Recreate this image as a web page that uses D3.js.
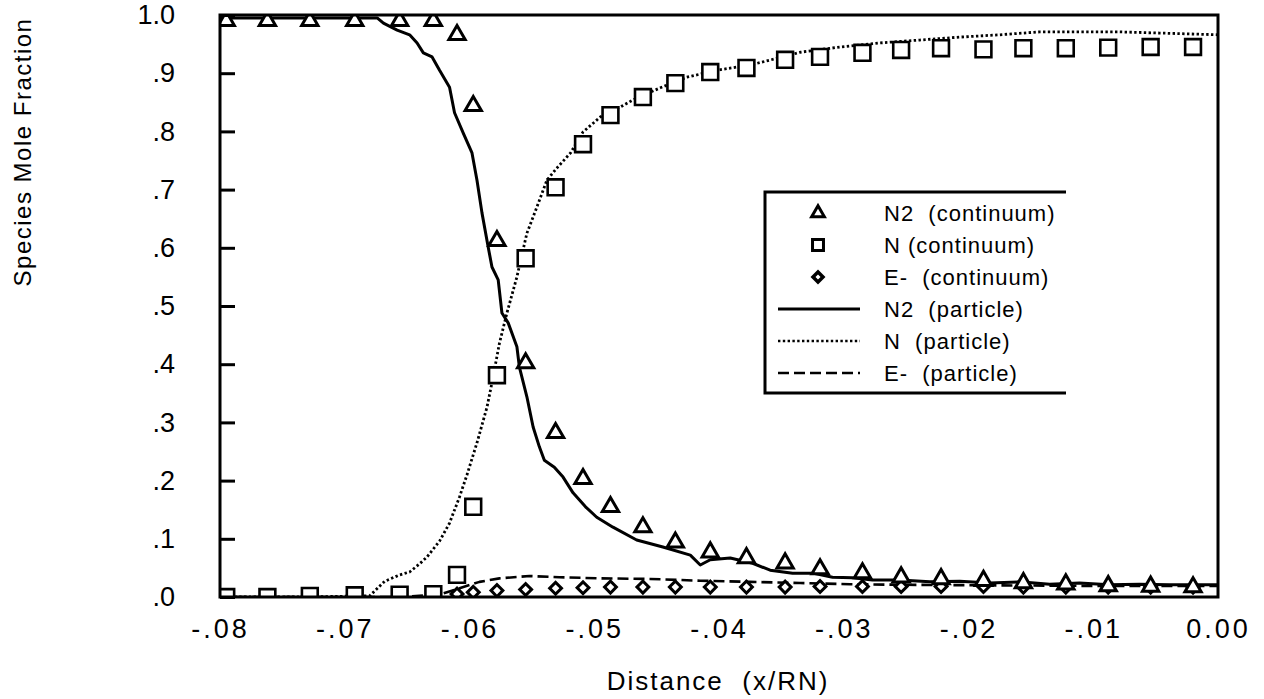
<!DOCTYPE html>
<html>
<head>
<meta charset="utf-8">
<script src="https://cdn.jsdelivr.net/npm/d3@7"></script>
<style>
  html, body { margin: 0; padding: 0; background: #fff; }
  svg { display: block; }
  text { font-family: "Liberation Sans", Arial, Helvetica, sans-serif; fill: #000; }
</style>
</head>
<body>
<svg id="chart" width="1264" height="699"></svg>
<script>
// Continuum solution sample locations (x/RN)
const contX = [-0.0795, -0.0762, -0.0728, -0.0692, -0.0656, -0.0629, -0.0610, -0.0597,
  -0.0578, -0.0555, -0.0531, -0.0509, -0.0487, -0.0461, -0.0435, -0.0407, -0.0378,
  -0.0347, -0.0319, -0.0285, -0.0254, -0.0222, -0.0188, -0.0156, -0.0122, -0.0088,
  -0.0054, -0.0020];
const contN2 = [0.990, 0.990, 0.990, 0.990, 0.990, 0.990, 0.966, 0.844, 0.612, 0.402,
  0.282, 0.203, 0.155, 0.120, 0.094, 0.077, 0.067, 0.058, 0.048, 0.041, 0.034, 0.031,
  0.028, 0.024, 0.022, 0.019, 0.018, 0.017];
const contN = [0.000, 0.000, 0.002, 0.003, 0.004, 0.005, 0.038, 0.155, 0.381, 0.582,
  0.704, 0.778, 0.828, 0.859, 0.883, 0.902, 0.909, 0.923, 0.928, 0.935, 0.940, 0.943,
  0.941, 0.943, 0.943, 0.944, 0.945, 0.945];
const contE = [0.000, 0.000, 0.000, 0.000, 0.000, 0.002, 0.005, 0.008, 0.011, 0.013,
  0.015, 0.016, 0.017, 0.017, 0.017, 0.017, 0.017, 0.017, 0.018, 0.018, 0.018, 0.018,
  0.018, 0.017, 0.017, 0.017, 0.017, 0.017];

// Particle (DSMC) profiles
const partN2X = [-0.0800, -0.0736, -0.0674, -0.0669, -0.0658, -0.0648, -0.0642, -0.0637,
  -0.0630, -0.0624, -0.0616, -0.0612, -0.0605, -0.0598, -0.0594, -0.0590, -0.0585,
  -0.0582, -0.0577, -0.0574, -0.0569, -0.0562, -0.0560, -0.0554, -0.0549, -0.0544,
  -0.0540, -0.0532, -0.0525, -0.0517, -0.0507, -0.0498, -0.0485, -0.0466, -0.0445,
  -0.0423, -0.0415, -0.0407, -0.0391, -0.0373, -0.0359, -0.0341, -0.0325, -0.0309,
  -0.0293, -0.0277, -0.0255, -0.0231, -0.0207, -0.0183, -0.0159, -0.0135, -0.0111,
  -0.0087, -0.0063, -0.0039, -0.0014, 0.0000];
const partN2Y = [0.995, 0.995, 0.995, 0.986, 0.974, 0.966, 0.952, 0.935, 0.928, 0.905,
  0.876, 0.832, 0.797, 0.763, 0.716, 0.660, 0.601, 0.567, 0.545, 0.488, 0.471, 0.430,
  0.395, 0.344, 0.292, 0.258, 0.235, 0.223, 0.206, 0.179, 0.155, 0.137, 0.120, 0.098,
  0.086, 0.072, 0.055, 0.064, 0.067, 0.058, 0.046, 0.041, 0.041, 0.034, 0.033, 0.029,
  0.029, 0.026, 0.027, 0.024, 0.026, 0.022, 0.024, 0.021, 0.022, 0.021, 0.021, 0.021];

const partNX = [-0.0800, -0.0736, -0.0680, -0.0668, -0.0656, -0.0648, -0.0640, -0.0634,
  -0.0624, -0.0616, -0.0608, -0.0602, -0.0594, -0.0586, -0.0582, -0.0576, -0.0570,
  -0.0562, -0.0554, -0.0546, -0.0538, -0.0530, -0.0519, -0.0509, -0.0495, -0.0479,
  -0.0469, -0.0447, -0.0426, -0.0402, -0.0375, -0.0349, -0.0335, -0.0303, -0.0271,
  -0.0239, -0.0207, -0.0175, -0.0143, -0.0111, -0.0079, -0.0047, 0.0000];
const partNY = [0.000, 0.000, 0.002, 0.027, 0.038, 0.043, 0.057, 0.069, 0.096, 0.127,
  0.172, 0.210, 0.265, 0.326, 0.368, 0.436, 0.488, 0.550, 0.625, 0.670, 0.716, 0.737,
  0.763, 0.799, 0.825, 0.842, 0.854, 0.875, 0.893, 0.905, 0.914, 0.928, 0.936, 0.945,
  0.952, 0.957, 0.962, 0.966, 0.971, 0.971, 0.971, 0.969, 0.966];

const partEX = [-0.0800, -0.0656, -0.0624, -0.0608, -0.0592, -0.0576, -0.0552, -0.0528,
  -0.0495, -0.0455, -0.0415, -0.0375, -0.0335, -0.0295, -0.0255, -0.0175, -0.0095, 0.0000];
const partEY = [0.000, 0.000, 0.004, 0.015, 0.026, 0.032, 0.036, 0.034, 0.032, 0.031,
  0.028, 0.026, 0.024, 0.022, 0.021, 0.020, 0.019, 0.019];

const xTicks = [-0.08, -0.07, -0.06, -0.05, -0.04, -0.03, -0.02, -0.01, 0.0];
const xTickLabels = ["-.08", "-.07", "-.06", "-.05", "-.04", "-.03", "-.02", "-.01", "0.00"];
const yTicks = [0, 0.1, 0.2, 0.3, 0.4, 0.5, 0.6, 0.7, 0.8, 0.9, 1.0];
const yTickLabels = [".0", ".1", ".2", ".3", ".4", ".5", ".6", ".7", ".8", ".9", "1.0"];

const legendLabels = ["N2  (continuum)", "N (continuum)", "E-  (continuum)",
  "N2  (particle)", "N  (particle)", "E-  (particle)"];

const svg = d3.select("#chart");
const L = 220, R = 1218, T = 15, B = 597;
const x = d3.scaleLinear().domain([-0.08, 0]).range([L, R]);
const y = d3.scaleLinear().domain([0, 1]).range([B, T]);

// Marks stay inside the frame
svg.append("defs").append("clipPath").attr("id", "plotClip")
  .append("rect").attr("x", L).attr("y", T).attr("width", R - L).attr("height", B - T);
const plot = svg.append("g").attr("clip-path", "url(#plotClip)");

// Particle curves
const lineGen = d3.line().x(d => x(d[0])).y(d => y(d[1])).curve(d3.curveLinear);
const pairs = (xs, ys) => xs.map((v, i) => [v, ys[i]]);

const dotDash = "2.4,2.4";
const longDash = "11,5";
const lineStyles = [
  { data: pairs(partEX, partEY), dash: longDash, width: 2.6 },
  { data: pairs(partNX, partNY), dash: dotDash, width: 2.8 },
  { data: pairs(partN2X, partN2Y), dash: null, width: 3 }
];
lineStyles.forEach(s => {
  plot.append("path")
    .attr("d", lineGen(s.data))
    .attr("fill", "none")
    .attr("stroke", "#000")
    .attr("stroke-width", s.width)
    .attr("stroke-dasharray", s.dash)
    .attr("stroke-linejoin", "round");
});

// Continuum markers
const triSym = d3.symbol().type(d3.symbolTriangle).size(115);
const sqSym = d3.symbol().type(d3.symbolSquare).size(250);
const diaSym = d3.symbol().type(d3.symbolSquare).size(70);

function markers(ys, gen, rot, sw) {
  plot.append("g").selectAll("path")
    .data(contX.map((v, i) => [v, ys[i]]))
    .join("path")
    .attr("d", gen())
    .attr("transform", d => `translate(${x(d[0])},${y(d[1])}) rotate(${rot})`)
    .attr("fill", "#fff")
    .attr("stroke", "#000")
    .attr("stroke-width", sw);
}
markers(contE, diaSym, 45, 3);
markers(contN, sqSym, 0, 2.6);
markers(contN2, triSym, 0, 3);

// Frame
svg.append("rect")
  .attr("x", L).attr("y", T)
  .attr("width", R - L).attr("height", B - T)
  .attr("fill", "none").attr("stroke", "#000").attr("stroke-width", 3);

// Y axis: inward ticks on the left edge
const yAxis = d3.axisLeft(y).tickValues(yTicks)
  .tickSize(-15).tickPadding(45)
  .tickFormat((d, i) => yTickLabels[i]);
const gy = svg.append("g").attr("transform", `translate(${L},0)`).call(yAxis);
gy.select(".domain").remove();
gy.selectAll(".tick line").attr("stroke", "#000").attr("stroke-width", 3);
gy.selectAll(".tick text")
  .attr("font-size", 27)
  .style("font-family", '"Liberation Sans", Arial, sans-serif');

// X axis labels
const xAxis = d3.axisBottom(x).tickValues(xTicks)
  .tickSize(0).tickPadding(22)
  .tickFormat((d, i) => xTickLabels[i]);
const gx = svg.append("g").attr("transform", `translate(0,${B})`).call(xAxis);
gx.select(".domain").remove();
gx.selectAll(".tick text")
  .attr("font-size", 27)
  .attr("letter-spacing", "3px")
  .style("font-family", '"Liberation Sans", Arial, sans-serif');

// Axis titles
svg.append("text")
  .attr("x", 718).attr("y", 690)
  .attr("text-anchor", "middle")
  .attr("font-size", 26)
  .attr("letter-spacing", "2px")
  .attr("xml:space", "preserve")
  .style("white-space", "pre")
  .text("Distance  (x/RN)");
svg.append("text")
  .attr("transform", "translate(31,152) rotate(-90)")
  .attr("text-anchor", "middle")
  .attr("font-size", 24)
  .attr("letter-spacing", "1.5px")
  .text("Species Mole Fraction");

// Legend
const lgLeft = 765, lgTop = 192, lgBottom = 393, lgRight = 1066;
svg.append("path")
  .attr("d", `M${lgRight},${lgTop}H${lgLeft}V${lgBottom}H${lgRight}`)
  .attr("fill", "#fff").attr("stroke", "#000").attr("stroke-width", 3);
const rowY = i => 213 + i * 32;
const lg = svg.append("g");
const lgSyms = [
  { gen: d3.symbol().type(d3.symbolTriangle).size(70), rot: 0, sw: 3 },
  { gen: d3.symbol().type(d3.symbolSquare).size(120), rot: 0, sw: 3 },
  { gen: d3.symbol().type(d3.symbolSquare).size(50), rot: 45, sw: 3.5 }
];
lgSyms.forEach((s, i) => {
  lg.append("path").attr("d", s.gen())
    .attr("transform", `translate(818,${rowY(i)}) rotate(${s.rot})`)
    .attr("fill", "#fff").attr("stroke", "#000").attr("stroke-width", s.sw);
});
[null, dotDash, longDash].forEach((dash, k) => {
  lg.append("line")
    .attr("x1", 778).attr("x2", 860)
    .attr("y1", rowY(k + 3)).attr("y2", rowY(k + 3))
    .attr("stroke", "#000").attr("stroke-width", k === 0 ? 3 : 2.6)
    .attr("stroke-dasharray", dash);
});
legendLabels.forEach((t, i) => {
  lg.append("text")
    .attr("x", 884).attr("y", rowY(i))
    .attr("dy", "0.35em")
    .attr("font-size", 22)
    .attr("letter-spacing", "1px")
    .attr("xml:space", "preserve")
    .style("white-space", "pre")
    .text(t);
});
</script>
</body>
</html>
